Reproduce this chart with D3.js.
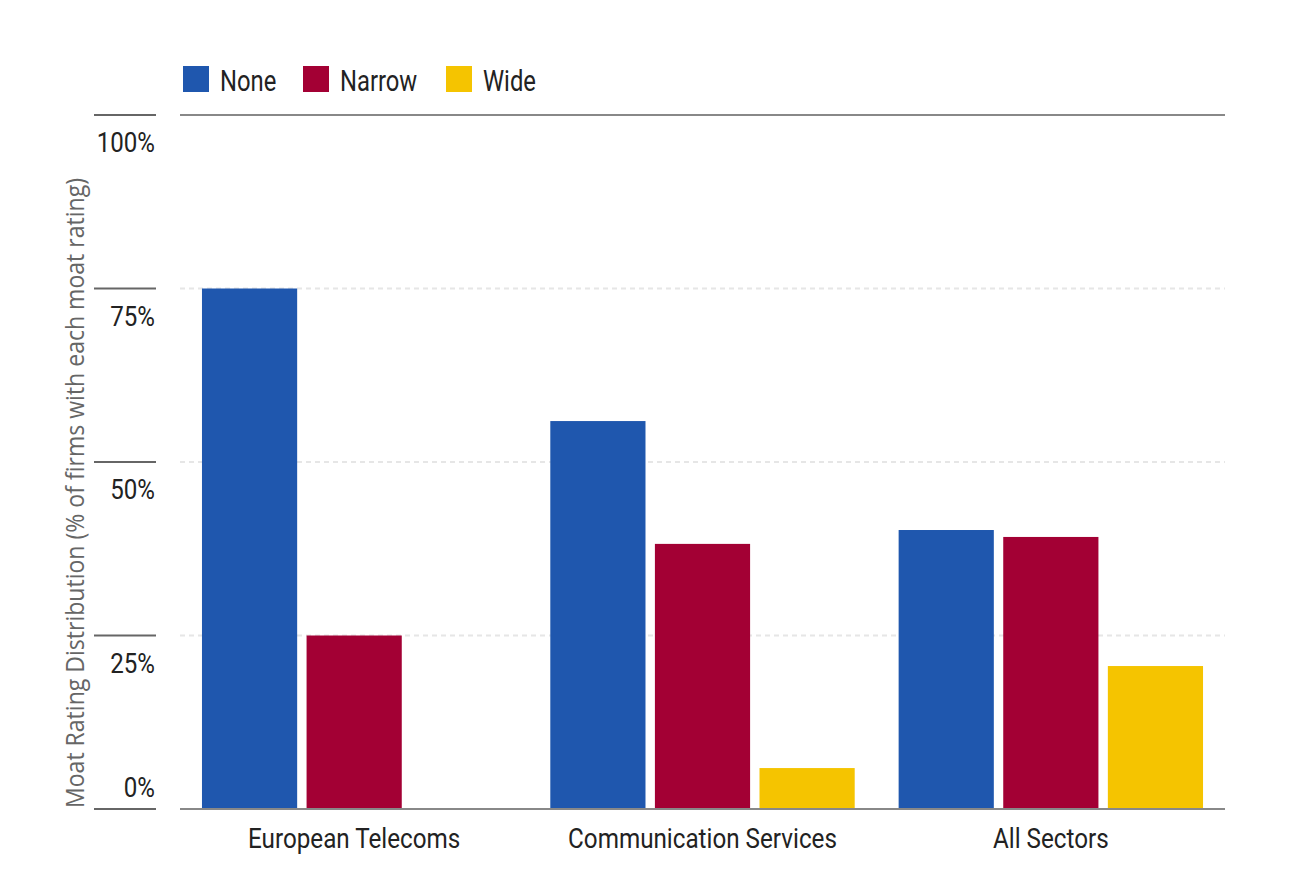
<!DOCTYPE html>
<html>
<head>
<meta charset="utf-8">
<script src="https://cdn.jsdelivr.net/npm/d3@7"></script>
<style>
  html, body { margin: 0; padding: 0; background: #fff; }
  svg text { font-family: Roboto, "DejaVu Sans Condensed", sans-serif; }
</style>
</head>
<body>
<div id="chart"></div>
<script>
// Data
const categories = ['European Telecoms', 'Communication Services', 'All Sectors'];
const seriesNames = ['None', 'Narrow', 'Wide'];
const noneValues = [75.0, 55.9, 40.2];
const narrowValues = [25.0, 38.2, 39.2];
const wideValues = [0, 5.9, 20.6];
const yTicks = [0, 25, 50, 75, 100];
const colors = ['#1F57AE', '#A30034', '#F5C400'];

// squeeze text horizontally to imitate the condensed face of the original
function condense(sel, k) {
    sel.each(function () {
        const w = this.getComputedTextLength();
        d3.select(this)
            .attr('textLength', w * k)
            .attr('lengthAdjust', 'spacingAndGlyphs');
    });
}

function draw() {
    const width = 1290;
    const height = 896;
    const plot = { left: 180, right: 1225, top: 115, bottom: 809 };

    const svg = d3.select('#chart')
        .append('svg')
        .attr('width', width)
        .attr('height', height);

    const seriesValues = [noneValues, narrowValues, wideValues];
    const rows = categories.map((c, i) => ({
        category: c,
        values: seriesNames.map((s, j) => ({ series: s, value: seriesValues[j][i] }))
    }));

    const x0 = d3.scaleBand()
        .domain(categories)
        .range([plot.left, plot.right])
        .padding(0);

    const x1 = d3.scaleBand()
        .domain(seriesNames)
        .range([0, x0.bandwidth()])
        .paddingInner(0.09)
        .paddingOuter(0.21);

    const y = d3.scaleLinear()
        .domain([0, 100])
        .range([plot.bottom, plot.top]);

    const color = d3.scaleOrdinal().domain(seriesNames).range(colors);

    // dashed gridlines
    svg.append('g')
        .selectAll('line')
        .data(yTicks.filter(t => t > 0 && t < 100))
        .enter()
        .append('line')
        .attr('x1', plot.left)
        .attr('x2', plot.right)
        .attr('y1', d => y(d))
        .attr('y2', d => y(d))
        .style('stroke', '#e6e6e6')
        .style('stroke-width', 2)
        .style('stroke-dasharray', '5,4');

    // short tick marks on the left
    svg.append('g')
        .selectAll('line')
        .data(yTicks)
        .enter()
        .append('line')
        .attr('x1', 94)
        .attr('x2', 156)
        .attr('y1', d => y(d))
        .attr('y2', d => y(d))
        .style('stroke', '#666')
        .style('stroke-width', 2);

    // tick labels (under the mark, 0% sits above)
    svg.append('g')
        .selectAll('text')
        .data(yTicks)
        .enter()
        .append('text')
        .attr('x', 155)
        .attr('y', d => d === 0 ? y(d) - 12 : y(d) + 37)
        .style('text-anchor', 'end')
        .style('font-size', '28px')
        .style('fill', '#222')
        .text(d => d + '%')
        .call(condense, 0.86);

    // top rule and baseline
    [100, 0].forEach(v => {
        svg.append('line')
            .attr('x1', plot.left)
            .attr('x2', plot.right)
            .attr('y1', y(v))
            .attr('y2', y(v))
            .style('stroke', '#888')
            .style('stroke-width', 2);
    });

    // bars
    const groups = svg.append('g')
        .selectAll('g')
        .data(rows)
        .enter()
        .append('g')
        .attr('transform', d => `translate(${x0(d.category)},0)`);

    groups.selectAll('rect')
        .data(d => d.values.filter(v => v.value > 0))
        .enter()
        .append('rect')
        .attr('x', d => x1(d.series))
        .attr('width', x1.bandwidth())
        .attr('y', d => y(d.value))
        .attr('height', d => y(0) - y(d.value))
        .style('fill', d => color(d.series));

    // redraw baseline above bars
    svg.append('line')
        .attr('x1', plot.left)
        .attr('x2', plot.right)
        .attr('y1', y(0))
        .attr('y2', y(0))
        .style('stroke', '#888')
        .style('stroke-width', 2);

    // category labels
    svg.append('g')
        .selectAll('text')
        .data(categories)
        .enter()
        .append('text')
        .attr('x', d => x0(d) + x0.bandwidth() / 2)
        .attr('y', 848)
        .style('text-anchor', 'middle')
        .style('font-size', '28px')
        .style('fill', '#222')
        .text(d => d)
        .call(condense, 0.865);

    // y axis title
    svg.append('text')
        .attr('transform', `translate(84,${(178 + 808) / 2}) rotate(-90)`)
        .style('text-anchor', 'middle')
        .style('font-family', '"Open Sans", "Noto Sans", sans-serif')
        .style('font-size', '25px')
        .style('fill', '#666')
        .attr('textLength', 630)
        .attr('lengthAdjust', 'spacingAndGlyphs')
        .text('Moat Rating Distribution (% of firms with each moat rating)');

    // legend
    const legendX = [183, 303, 446];
    const legend = svg.append('g')
        .selectAll('g')
        .data(seriesNames)
        .enter()
        .append('g')
        .attr('transform', (d, i) => `translate(${legendX[i]},66)`);

    legend.append('rect')
        .attr('width', 26)
        .attr('height', 26)
        .style('fill', d => color(d));

    legend.append('text')
        .attr('x', 37)
        .attr('y', 25)
        .style('font-size', '29px')
        .style('fill', '#222')
        .text(d => d)
        .call(condense, 0.82);
}

document.addEventListener('DOMContentLoaded', draw);
</script>
</body>
</html>
